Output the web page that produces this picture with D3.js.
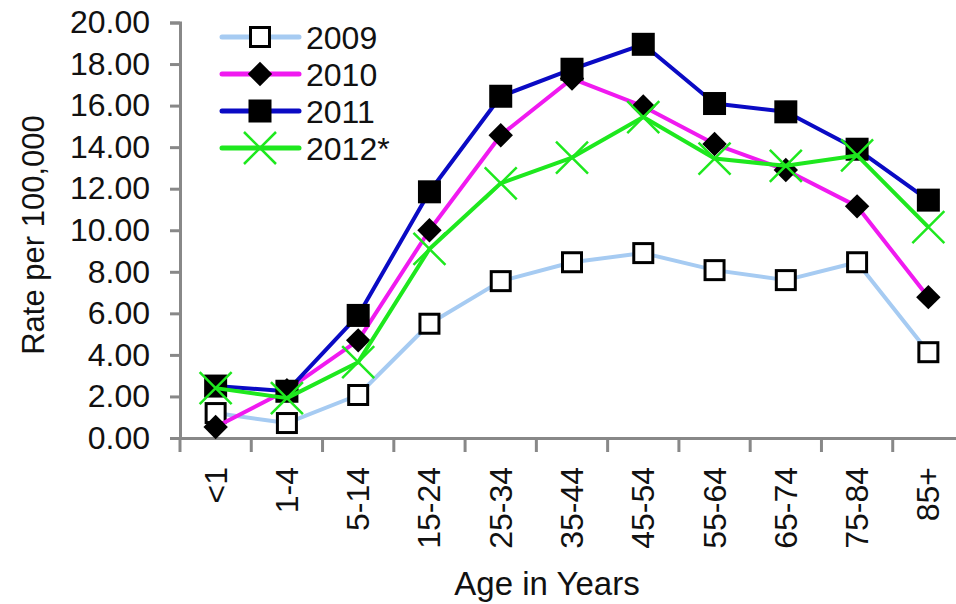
<!DOCTYPE html>
<html>
<head>
<meta charset="utf-8">
<script src="https://cdn.jsdelivr.net/npm/d3@7"></script>
<style>
  body { margin: 0; background: #fff; }
  text { font-family: Arial, "Liberation Sans", sans-serif; fill: #111; }
</style>
</head>
<body>
<svg id="chart" width="956" height="604"></svg>
<script>
var ageGroups = ['<1','1-4','5-14','15-24','25-34','35-44','45-54','55-64','65-74','75-84','85+'];
var years = ['2009','2010','2011','2012*'];
var rate2009 = [1.2, 0.72, 2.07, 5.5, 7.55, 8.46, 8.9, 8.08, 7.6, 8.46, 4.13];
var rate2010 = [0.53, 2.3, 4.7, 10.0, 14.57, 17.3, 15.96, 14.15, 12.9, 11.15, 6.78];
var rate2011 = [2.5, 2.25, 5.9, 11.85, 16.45, 17.75, 18.95, 16.1, 15.7, 13.9, 11.45];
var rate2012 = [2.4, 1.92, 3.65, 9.1, 12.26, 13.5, 15.45, 13.45, 13.1, 13.6, 10.15];
var yTicks = [0,2,4,6,8,10,12,14,16,18,20];

var series = [
  {name: years[0], values: rate2009, color: '#a6cbf2', marker: 'open'},
  {name: years[1], values: rate2010, color: '#f01af0', marker: 'diamond'},
  {name: years[2], values: rate2011, color: '#0a0ac4', marker: 'square'},
  {name: years[3], values: rate2012, color: '#1ee81e', marker: 'cross'}
];

var svg = d3.select('#chart');

var x = d3.scaleBand().domain(ageGroups).range([180, 964]);
var y = d3.scaleLinear().domain([0, 20]).range([438, 22.5]);

// axes
var yAxis = svg.append('g').attr('transform', 'translate(180,0)')
  .call(d3.axisLeft(y).tickValues(yTicks).tickSize(10).tickPadding(20).tickFormat(d3.format('.2f')));
yAxis.selectAll('text').style('font-size', '32px').attr('fill', '#111');

var xAxis = svg.append('g').attr('transform', 'translate(0,438)')
  .call(d3.axisBottom(x).tickSize(0).tickFormat(''));
xAxis.selectAll('.tick').remove();
xAxis.selectAll('.bt').data(ageGroups).enter().append('line')
  .attr('x1', function(d){ return x(d); }).attr('x2', function(d){ return x(d); })
  .attr('y1', 0).attr('y2', 14);

svg.selectAll('.domain').attr('stroke', '#888').attr('stroke-width', 3);
svg.selectAll('.tick line').attr('stroke', '#888').attr('stroke-width', 3);
xAxis.selectAll('line').attr('stroke', '#888').attr('stroke-width', 3);

svg.selectAll('.xlab').data(ageGroups).enter().append('text')
  .attr('transform', function(d){ return 'translate(' + (x(d) + x.bandwidth()/2 + 11) + ',467) rotate(-90)'; })
  .attr('text-anchor', 'end')
  .style('font-size', '32px')
  .text(function(d){ return d; });

svg.append('text').attr('x', 547).attr('y', 595).attr('text-anchor', 'middle')
  .style('font-size', '33px').text('Age in Years');
svg.append('text').attr('transform', 'translate(44,235) rotate(-90)').attr('text-anchor', 'middle')
  .style('font-size', '31px').text('Rate per 100,000');

function cx(i){ return x(ageGroups[i]) + x.bandwidth()/2; }

function drawMarker(g, type, px, py){
  if (type === 'open') {
    g.append('rect').attr('x', px-9.5).attr('y', py-9.5).attr('width', 19).attr('height', 19)
      .attr('fill', '#fff').attr('stroke', '#000').attr('stroke-width', 3);
  } else if (type === 'square') {
    g.append('rect').attr('x', px-11.5).attr('y', py-11.5).attr('width', 23).attr('height', 23).attr('fill', '#000');
  } else if (type === 'diamond') {
    g.append('path').attr('d', d3.symbol().type(d3.symbolDiamond2).size(380)())
      .attr('transform', 'translate(' + px + ',' + py + ')').attr('fill', '#000');
  } else {
    g.append('path').attr('d', 'M-16,-16L16,16M-16,16L16,-16')
      .attr('transform', 'translate(' + px + ',' + py + ')')
      .attr('stroke', '#1ee81e').attr('stroke-width', 2.5).attr('fill', 'none');
  }
}

var line = d3.line().x(function(d, i){ return cx(i); }).y(function(d){ return y(d); });

series.forEach(function(s){
  var g = svg.append('g');
  g.append('path').attr('d', line(s.values)).attr('fill', 'none')
    .attr('stroke', s.color).attr('stroke-width', 4).attr('stroke-linejoin', 'round');
  s.values.forEach(function(v, i){ drawMarker(g, s.marker, cx(i), y(v)); });
});

// legend
series.forEach(function(s, i){
  var ly = 37 + i * 37;
  var g = svg.append('g');
  g.append('line').attr('x1', 222).attr('x2', 299).attr('y1', ly).attr('y2', ly)
    .attr('stroke', s.color).attr('stroke-width', 5).attr('stroke-linecap', 'round');
  drawMarker(g, s.marker, 260, ly);
  g.append('text').attr('x', 306).attr('y', ly + 11.5).style('font-size', '32px').text(s.name);
});
</script>
</body>
</html>
